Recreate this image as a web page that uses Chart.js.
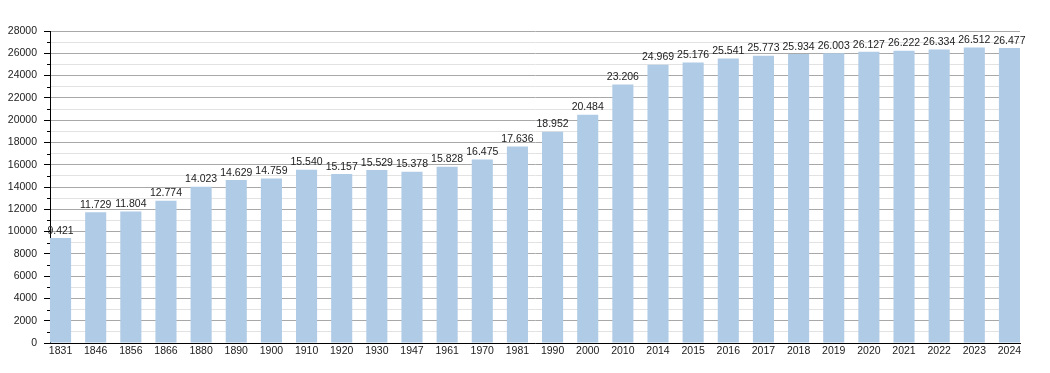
<!DOCTYPE html>
<html>
<head>
<meta charset="utf-8">
<script src="https://cdn.jsdelivr.net/npm/chart.js@4/dist/chart.umd.min.js"></script>
<style>
  html, body { margin: 0; padding: 0; background: #ffffff; }
  #wrap { width: 1050px; height: 373px; }
</style>
</head>
<body>
<div id="wrap"><canvas id="c" width="1050" height="373"></canvas></div>
<script>
const years = ['1831','1846','1856','1866','1880','1890','1900','1910','1920','1930','1947','1961','1970','1981','1990','2000','2010','2014','2015','2016','2017','2018','2019','2020','2021','2022','2023','2024'];
const population = [9421,11729,11804,12774,14023,14629,14759,15540,15157,15529,15378,15828,16475,17636,18952,20484,23206,24969,25176,25541,25773,25934,26003,26127,26222,26334,26512,26477];
const yMax = 28000;
const yStep = 1000;
const yLabelStep = 2000;

function fmt(v) {
  const s = String(Math.round(v));
  return s.replace(/\B(?=(\d{3})+(?!\d))/g, '.');
}

const labelPlugin = {
  id: 'barLabels',
  afterDatasetsDraw(chart) {
    const ctx = chart.ctx;
    const meta = chart.getDatasetMeta(0);
    ctx.save();
    ctx.font = '10.5px "Liberation Sans", Arial, sans-serif';
    ctx.fillStyle = '#222222';
    ctx.textAlign = 'center';
    ctx.textBaseline = 'bottom';
    meta.data.forEach((el, i) => {
      ctx.fillText(fmt(population[i]), el.x, el.y - 2);
    });
    ctx.restore();
  }
};

const minorTickPlugin = {
  id: 'minorTicks',
  afterDraw(chart) {
    const y = chart.scales.y;
    const ctx = chart.ctx;
    ctx.save();
    ctx.strokeStyle = '#000000';
    ctx.lineWidth = 1;
    ctx.beginPath();
    y.ticks.forEach(t => {
      if (t.value % yLabelStep !== 0) {
        const py = Math.round(y.getPixelForValue(t.value)) + 0.5;
        ctx.moveTo(y.right - 3, py);
        ctx.lineTo(y.right, py);
      }
    });
    ctx.stroke();
    ctx.restore();
  }
};

const points = population.map((v, i) => ({ x: i, y: v }));
const half = 0.3;

new Chart(document.getElementById('c'), {
  type: 'bar',
  data: {
    datasets: [{
      data: points,
      backgroundColor: '#b0cbe5',
      borderWidth: 0,
      categoryPercentage: 1,
      barPercentage: 0.6
    }]
  },
  options: {
    responsive: false,
    animation: false,
    devicePixelRatio: 1,
    layout: { padding: { top: 31, right: 30, left: 0, bottom: 0 } },
    plugins: { legend: { display: false }, tooltip: { enabled: false } },
    scales: {
      x: {
        type: 'linear',
        offset: false,
        min: -half,
        max: years.length - 1 + half,
        grid: { display: false, drawTicks: false },
        border: { display: true, color: '#000000', width: 1 },
        afterBuildTicks(axis) { axis.ticks = years.map((_, i) => ({ value: i })); },
        afterFit(scale) { scale.height = 30; },
        ticks: {
          autoSkip: false,
          maxRotation: 0,
          padding: 2,
          color: '#222222',
          font: { family: '"Liberation Sans", Arial, sans-serif', size: 10.5 },
          callback: (v) => years[v]
        }
      },
      y: {
        min: 0,
        max: yMax,
        afterFit(scale) { scale.width = 50; },
        border: { display: true, color: '#000000', width: 1 },
        grid: {
          color: (c) => (c.tick && c.tick.value % yLabelStep === 0) ? '#a8a8a8' : '#e2e2e2',
          tickColor: (c) => (c.tick && c.tick.value % yLabelStep === 0) ? '#000000' : 'rgba(0,0,0,0)',
          tickLength: 6,
          lineWidth: 1
        },
        ticks: {
          stepSize: yStep,
          autoSkip: false,
          padding: 7,
          color: '#222222',
          font: { family: '"Liberation Sans", Arial, sans-serif', size: 10.5 },
          callback: (v) => (v % yLabelStep === 0 ? String(v) : '')
        }
      }
    }
  },
  plugins: [labelPlugin, minorTickPlugin]
});
</script>
</body>
</html>
